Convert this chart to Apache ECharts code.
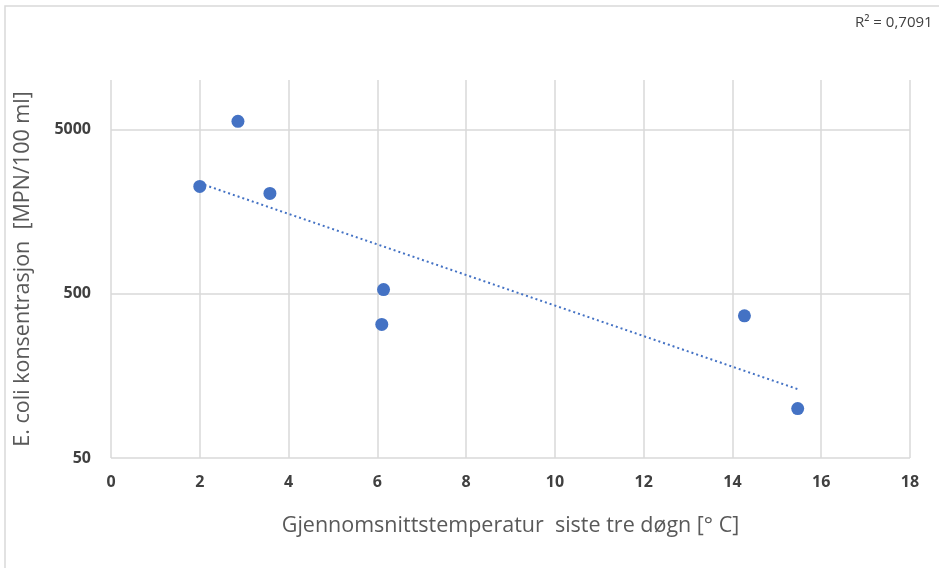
<!DOCTYPE html>
<html>
<head>
<meta charset="utf-8">
<script src="https://cdn.jsdelivr.net/npm/echarts@6/dist/echarts.min.js"></script>
<style>
html,body{margin:0;padding:0;background:#fff;}
#chart{width:939px;height:568px;}
</style>
</head>
<body>
<div id="chart"></div>
<script>
// Data
const temperature = [2.86, 2.0, 3.58, 6.14, 6.10, 14.27, 15.47];
const ecoli = [5600, 2250, 2040, 530, 325, 367, 100];
const xTicks = [0, 2, 4, 6, 8, 10, 12, 14, 16, 18];
const yTicks = [50, 500, 5000];
const r2Text = 'R² = 0,7091';
const xTitle = 'Gjennomsnittstemperatur  siste tre døgn [° C]';
const yTitle = 'E. coli konsentrasjon  [MPN/100 ml]';

// Exponential trendline (least squares on log values), drawn over the data range
const n = temperature.length;
const ly = ecoli.map(v => Math.log(v));
const mx = temperature.reduce((a, b) => a + b, 0) / n;
const my = ly.reduce((a, b) => a + b, 0) / n;
let sxy = 0, sxx = 0;
for (let i = 0; i < n; i++) { sxy += (temperature[i] - mx) * (ly[i] - my); sxx += (temperature[i] - mx) ** 2; }
const b = sxy / sxx, a = my - b * mx;
const xMin = Math.min(...temperature), xMax = Math.max(...temperature);
const trend = [[xMin, Math.exp(a + b * xMin)], [xMax, Math.exp(a + b * xMax)]];

const chart = echarts.init(document.getElementById('chart'), null, {renderer: 'canvas'});
const labelFont = {fontFamily: 'Open Sans', fontWeight: 'bold', fontSize: 16, color: '#404040'};
chart.setOption({
  animation: false,
  backgroundColor: '#fff',
  grid: {left: 111, right: 29, top: 80, bottom: 110, containLabel: false},
  graphic: [
    {type: 'rect', shape: {x: 5, y: 6, width: 1000, height: 1000}, style: {fill: 'none', stroke: '#d9d9d9', lineWidth: 1.5}, silent: true, z: -1},
    {type: 'text', left: 855, top: 15, style: {text: r2Text, fontFamily: 'Open Sans', fontSize: 15, fill: '#404040'}}
  ],
  xAxis: {
    type: 'value', min: 0, max: 18, interval: 2,
    axisLine: {show: false}, axisTick: {show: false},
    splitLine: {show: true, lineStyle: {color: '#d9d9d9', width: 1.5}},
    axisLabel: Object.assign({margin: 16, customValues: xTicks}, labelFont),
    name: xTitle, nameLocation: 'middle', nameGap: 57,
    nameTextStyle: {fontFamily: 'Open Sans', fontSize: 21.5, color: '#595959'}
  },
  yAxis: {
    type: 'log', logBase: 10, min: 50, max: 10000,
    axisLine: {show: false}, axisTick: {show: false, customValues: yTicks},
    splitLine: {show: true, lineStyle: {color: '#d9d9d9', width: 1.5}},
    axisLabel: Object.assign({margin: 20, customValues: yTicks, formatter: v => String(v)}, labelFont),
    name: yTitle, nameLocation: 'middle', nameGap: 77,
    nameTextStyle: {fontFamily: 'Open Sans', fontSize: 21.5, color: '#595959'}
  },
  series: [
    {
      type: 'line', data: trend, symbol: 'none', z: 1,
      lineStyle: {color: '#4472c4', width: 2, type: [2, 3]}
    },
    {
      type: 'scatter', data: temperature.map((t, i) => [t, ecoli[i]]),
      symbolSize: 13, z: 2,
      itemStyle: {color: '#4472c4', opacity: 1}
    }
  ]
});
</script>
</body>
</html>
